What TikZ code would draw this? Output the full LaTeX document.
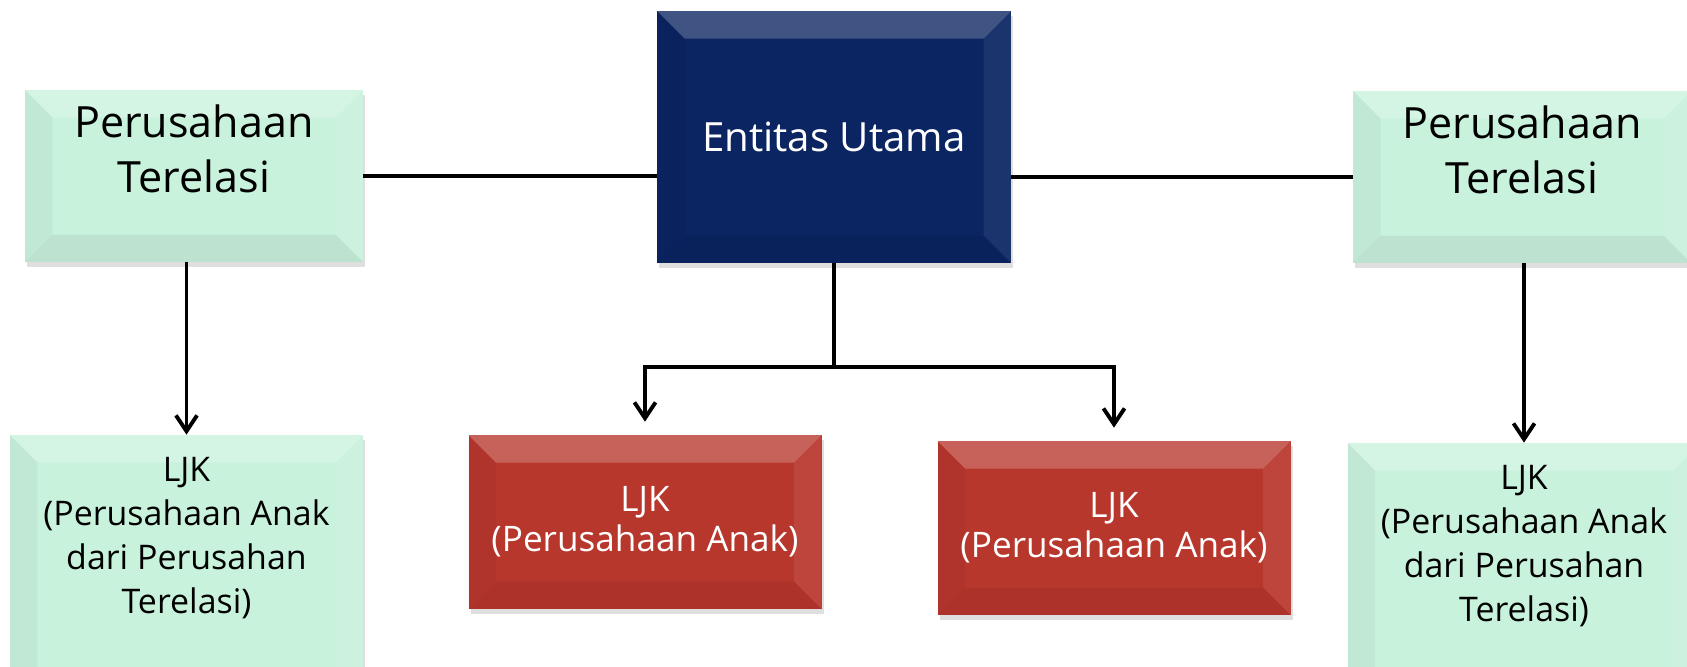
\documentclass[tikz,border=0pt]{standalone}
\usepackage{fontspec}
\setmainfont{Open Sans}
\usetikzlibrary{arrows.meta,calc,shadows}
\definecolor{ormint}{HTML}{C9F2DD}
\definecolor{ornavy}{HTML}{0B2562}
\definecolor{orred}{HTML}{B8372D}
\tikzset{
  org bevel/.style={path picture={
    \coordinate (bvA) at (path picture bounding box.north west);
    \coordinate (bvB) at (path picture bounding box.north east);
    \coordinate (bvC) at (path picture bounding box.south east);
    \coordinate (bvD) at (path picture bounding box.south west);
    \fill[white, fill opacity=0.22] (bvA) -- (bvB) -- ($(bvB)+(-5.5mm,-5.5mm)$) -- ($(bvA)+(5.5mm,-5.5mm)$) -- cycle;
    \fill[black, fill opacity=0.04] (bvA) -- (bvD) -- ($(bvD)+(5.5mm,5.5mm)$) -- ($(bvA)+(5.5mm,-5.5mm)$) -- cycle;
    \fill[white, fill opacity=0.07] (bvB) -- (bvC) -- ($(bvC)+(-5.5mm,5.5mm)$) -- ($(bvB)+(-5.5mm,-5.5mm)$) -- cycle;
    \fill[black, fill opacity=0.06] (bvD) -- (bvC) -- ($(bvC)+(-5.5mm,5.5mm)$) -- ($(bvD)+(5.5mm,5.5mm)$) -- cycle;
  }},
  org box/.style={org bevel, drop shadow={shadow xshift=0.4mm, shadow yshift=-1mm, opacity=0.25},
    align=center, inner sep=0pt},
  org rel/.style={org box, fill=ormint, text=black, minimum width=67.6mm, minimum height=34.4mm,
    font=\fontsize{24.5}{31.3}\selectfont, text depth=10.8mm},
  org main/.style={org box, fill=ornavy, text=white, minimum width=70.8mm, minimum height=50.4mm,
    font=\fontsize{22.9}{27}\selectfont},
  org sub/.style={org box, fill=orred, text=white, minimum width=70.6mm, minimum height=34.8mm,
    font=\fontsize{20}{22.8}\selectfont},
  org subrel/.style={org box, fill=ormint, text=black, minimum width=70.6mm, minimum height=53mm,
    font=\fontsize{19.3}{25}\selectfont, text depth=13mm},
  org line/.style={draw=black, line width=2.2pt},
  org arrow/.style={org line, -{Straight Barb[length=9pt,width=12pt]}}
}
\begin{document}
\begin{tikzpicture}[x=0.2mm, y=-0.2mm]
  \useasboundingbox (0,0) rectangle (1687,666);

  \node[org main] (main) at (834,137) {Entitas Utama};
  \node[org rel] (relL) at (194,176) {Perusahaan\\Terelasi};
  \node[org rel] (relR) at (1522,177) {Perusahaan\\Terelasi};

  \node[org sub] (subA) at (645,522) {LJK\\(Perusahaan Anak)};
  \node[org sub] (subB) at (1114,528) {LJK\\(Perusahaan Anak)};
  \node[org subrel] (subL) at (186.5,567.5) {LJK\\(Perusahaan Anak\\dari Perusahan\\Terelasi)};
  \node[org subrel] (subR) at (1524,575.5) {LJK\\(Perusahaan Anak\\dari Perusahan\\Terelasi)};

  \draw[org line] (relL.east) -- (relL.east -| main.west);
  \draw[org line] (relR.west -| main.east) -- (relR.west);

  \coordinate (fork) at (834,367);
  \draw[org line] (main.south) -- (fork);
  \draw[org arrow, shorten >=2.6mm] (fork) -| (subA.north);
  \draw[org arrow, shorten >=2.6mm] (fork) -| (subB.north);

  \draw[org arrow] (relL.south -| subL.north) -- (subL.north);
  \draw[org arrow] (relR.south -| subR.north) -- (subR.north);
\end{tikzpicture}
\end{document}
